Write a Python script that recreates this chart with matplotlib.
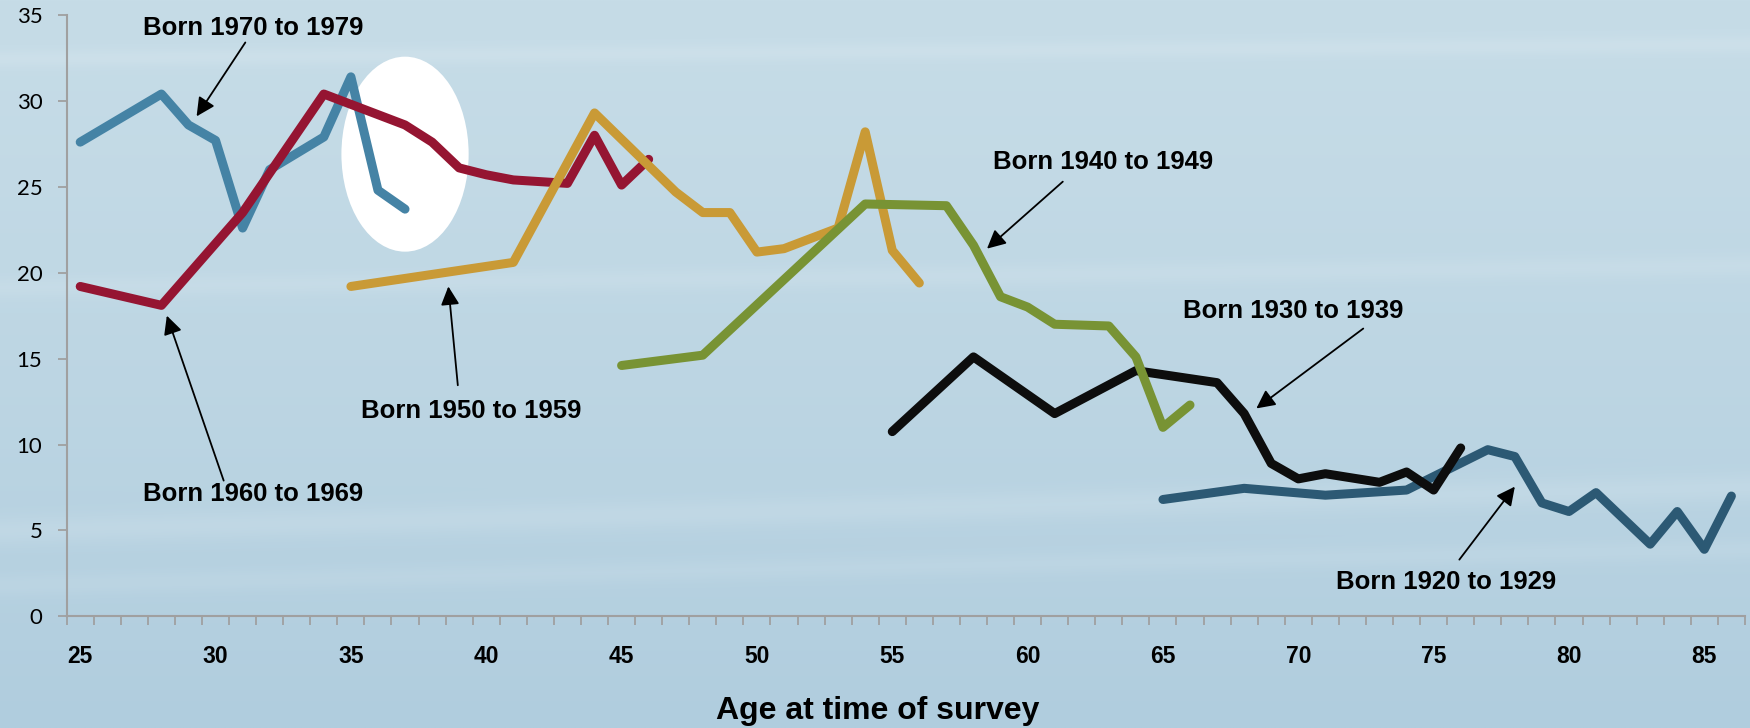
import numpy as np
import matplotlib.pyplot as plt
from matplotlib.patches import Ellipse

# cohort series: age at survey -> value
age_1970s = [25, 28, 29, 30, 31, 32, 34, 35, 36, 37]
val_1970s = [27.6, 30.4, 28.6, 27.7, 22.6, 26.0, 27.9, 31.4, 24.8, 23.7]

age_1960s = [25, 28, 31, 34, 37, 38, 39, 40, 41, 43, 44, 45, 46]
val_1960s = [19.2, 18.1, 23.5, 30.4, 28.6, 27.6, 26.1, 25.7, 25.4, 25.2, 28.0, 25.1, 26.6]

age_1950s = [35, 38, 41, 44, 47, 48, 49, 50, 51, 53, 54, 55, 56]
val_1950s = [19.2, 19.9, 20.6, 29.3, 24.7, 23.5, 23.5, 21.2, 21.4, 22.6, 28.2, 21.3, 19.4]

age_1940s = [45, 48, 54, 57, 58, 59, 60, 61, 63, 64, 65, 66]
val_1940s = [14.6, 15.2, 24.0, 23.9, 21.6, 18.6, 18.0, 17.0, 16.9, 15.1, 11.0, 12.3]

age_1930s = [55, 58, 61, 64, 67, 68, 69, 70, 71, 73, 74, 75, 76]
val_1930s = [10.75, 15.1, 11.8, 14.3, 13.6, 11.8, 8.9, 8.0, 8.3, 7.8, 8.4, 7.35, 9.8]

age_1920s = [65, 68, 71, 74, 77, 78, 79, 80, 81, 83, 84, 85, 86]
val_1920s = [6.8, 7.45, 7.05, 7.35, 9.7, 9.3, 6.6, 6.1, 7.2, 4.2, 6.1, 3.9, 7.0]

age_labels = list(range(25, 90, 5))
y_ticks = list(range(0, 40, 5))

fig = plt.figure(figsize=(17.5, 7.28), dpi=100)

# background: soft blue gradient with faint light streaks
bg = fig.add_axes([0, 0, 1, 1], zorder=-10)
yy = np.linspace(1, 0, 400)[:, None]
xx = np.linspace(0, 1, 600)[None, :]
top = np.array([198, 220, 231]) / 255
bot = np.array([176, 205, 222]) / 255
t = (1 - yy) ** 1.3
img = top + (bot - top) * t[..., None] * np.ones_like(xx)[..., None]
light = np.zeros((400, 600))
for cy, tilt, w, a in [(0.93, 0.02, 0.012, 0.35), (0.62, 0.03, 0.015, 0.3),
                       (0.30, 0.06, 0.02, 0.35), (0.22, 0.05, 0.015, 0.25)]:
    centre = cy + tilt * (xx - 0.5)
    light += a * np.exp(-((yy - centre) / w) ** 2)
light = np.clip(light, 0, 1)
img = img + (1 - img) * light[..., None] * 0.35
bg.imshow(img, aspect='auto', extent=[0, 1, 0, 1])
bg.set_xlim(0, 1)
bg.set_ylim(0, 1)
bg.axis('off')

ax = fig.add_axes([0.0381, 0.1534, 0.9590, 0.8260])
ax.patch.set_alpha(0)

ax.add_patch(Ellipse((37.0, 26.9), 4.7, 11.35, color='white', zorder=1, lw=0))

lw = 6.5
kw = dict(lw=lw, solid_capstyle='round', solid_joinstyle='round')
ax.plot(age_1920s, val_1920s, color='#2C5974', zorder=2, **kw)
ax.plot(age_1930s, val_1930s, color='#0D0D0D', zorder=3, **kw)
ax.plot(age_1970s, val_1970s, color='#4583A5', zorder=2, **kw)
ax.plot(age_1960s, val_1960s, color='#951532', zorder=3, **kw)
ax.plot(age_1950s, val_1950s, color='#C99A36', zorder=4, **kw)
ax.plot(age_1940s, val_1940s, color='#789334', zorder=5, **kw)

ax.set_xlim(24.5, 86.5)
ax.set_ylim(0, 35)

for s in ['top', 'right']:
    ax.spines[s].set_visible(False)
for s in ['left', 'bottom']:
    ax.spines[s].set_color('#A0A0A0')
    ax.spines[s].set_linewidth(1.5)

ax.set_xticks(np.arange(24.5, 87, 1), minor=True)
ax.set_xticks(age_labels)
ax.set_xticklabels([str(a) for a in age_labels], fontsize=16.5, fontweight='bold',
                   family='Liberation Sans')
ax.tick_params(axis='x', which='major', length=0, pad=21)
ax.tick_params(axis='x', which='minor', length=6.5, width=1.3, color='#A0A0A0')

ax.set_yticks(y_ticks)
ax.set_yticklabels([str(v) for v in y_ticks], fontsize=16, family='Lato')
ax.tick_params(axis='y', length=6.5, width=1.3, color='#A0A0A0', pad=11)

fig.text(877.5 / 1750, 1 - 711 / 728, 'Age at time of survey', fontsize=23,
         fontweight='bold', family='Liberation Sans', ha='center', va='center')

tkw = dict(fontsize=18.5, fontweight='bold', family='Liberation Sans',
           ha='center', va='center', zorder=6)
akw = dict(arrowstyle='-|>', color='black', lw=1.3, mutation_scale=28,
           shrinkA=0, shrinkB=0)

labels = [
    ('Born 1970 to 1979', (31.4, 34.25), (31.1, 33.4), (29.3, 29.1)),
    ('Born 1960 to 1969', (31.4, 7.1), (30.3, 7.9), (28.2, 17.5)),
    ('Born 1950 to 1959', (39.45, 11.95), (38.95, 13.45), (38.6, 19.2)),
    ('Born 1940 to 1949', (62.8, 26.45), (61.3, 25.3), (58.5, 21.4)),
    ('Born 1930 to 1939', (69.8, 17.8), (72.4, 16.75), (68.45, 12.1)),
    ('Born 1920 to 1929', (75.45, 2.0), (75.95, 3.3), (78.0, 7.55)),
]
for txt, tpos, start, tip in labels:
    ax.text(tpos[0], tpos[1], txt, **tkw)
    ax.annotate('', xy=tip, xytext=start, arrowprops=akw, zorder=6)

fig.savefig('out.png', dpi=100)
